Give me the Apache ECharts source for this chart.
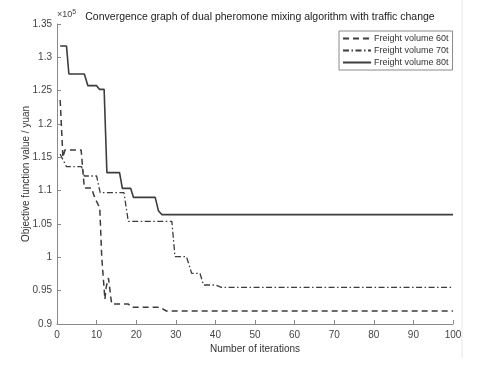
<!DOCTYPE html>
<html>
<head>
<meta charset="utf-8">
<script src="https://cdn.jsdelivr.net/npm/echarts@6/dist/echarts.min.js"></script>
<style>
html, body { margin: 0; padding: 0; background: #fff; }
#main { width: 480px; height: 367px; }
</style>
</head>
<body>
<div id="main"></div>
<script>
// breakpoints (iteration, objective value)
var iter60 = [0.8, 1.5, 2.0, 6.1, 6.9, 8.7, 9.5, 10.8, 11.3, 12.1, 12.4, 13.0, 13.8, 18.0, 18.8, 26.0, 27.6, 100];
var val60  = [1.236, 1.15, 1.161, 1.161, 1.104, 1.104, 1.09, 1.074, 1.0, 0.937, 0.955, 0.969, 0.93, 0.93, 0.925, 0.925, 0.9195, 0.9195];

var iter70 = [0.8, 1.2, 2.4, 6.2, 6.9, 10.0, 10.9, 16.9, 18.0, 29.0, 29.8, 32.7, 34.0, 36.1, 37.0, 40.0, 41.5, 100];
var val70  = [1.155, 1.15, 1.136, 1.136, 1.122, 1.122, 1.097, 1.097, 1.054, 1.054, 1.001, 1.001, 0.976, 0.976, 0.9585, 0.9585, 0.955, 0.955];

var iter80 = [0.8, 2.4, 3.0, 6.9, 7.8, 10.0, 10.7, 11.9, 12.6, 15.8, 16.5, 18.6, 19.3, 24.8, 25.6, 26.5, 100];
var val80  = [1.317, 1.317, 1.275, 1.275, 1.2575, 1.2575, 1.252, 1.252, 1.127, 1.127, 1.1035, 1.1035, 1.09, 1.09, 1.07, 1.064, 1.064];

var seriesNames = ['Freight volume 60t', 'Freight volume 70t', 'Freight volume 80t'];
var titleText = 'Convergence graph of dual pheromone mixing algorithm with traffic change';

function pairs(xs, ys) {
	var res = [];
	for (var i = 0; i < xs.length; i++) res.push([xs[i], ys[i]]);
	return res;
}

var font = '"Liberation Sans", Arial, sans-serif';
var lineColor = '#3c3c3c';

var chart = echarts.init(document.getElementById('main'));
chart.setOption({
	animation: false,
	backgroundColor: '#fff',
	title: {
		text: titleText,
		left: 255,
		textAlign: 'center',
		top: 7,
		textStyle: { fontFamily: font, fontSize: 10.5, fontWeight: 'normal', color: '#1a1a1a' }
	},
	legend: {
		orient: 'vertical',
		left: 339,
		top: 31,
		padding: [3, 4, 3, 3],
		itemGap: 3,
		itemWidth: 28,
		itemHeight: 8,
		borderColor: '#8a8a8a',
		borderWidth: 1,
		data: seriesNames,
		itemStyle: { opacity: 0 },
		textStyle: { fontFamily: font, fontSize: 9, color: '#333', padding: [0, 0, 0, -2] }
	},
	grid: { left: 57, right: 27, top: 24, bottom: 43 },
	xAxis: {
		type: 'value',
		min: 0,
		max: 100,
		interval: 10,
		name: 'Number of iterations',
		nameLocation: 'middle',
		nameGap: 20,
		nameMoveOverlap: false,
		nameTextStyle: { fontFamily: font, fontSize: 10, color: '#333' },
		axisLine: { lineStyle: { color: '#8a8a8a' } },
		axisTick: { inside: true, length: 4, lineStyle: { color: '#8a8a8a' } },
		axisLabel: { fontFamily: font, fontSize: 10, color: '#444', margin: 6 },
		splitLine: { show: false }
	},
	yAxis: {
		type: 'value',
		min: 0.9,
		max: 1.35,
		interval: 0.05,
		name: 'Objective function value / yuan',
		nameLocation: 'middle',
		nameGap: 26,
		nameMoveOverlap: false,
		nameTextStyle: { fontFamily: font, fontSize: 10, color: '#333' },
		axisLine: { show: true, lineStyle: { color: '#8a8a8a' } },
		axisTick: { show: true, inside: true, length: 4, lineStyle: { color: '#8a8a8a' } },
		axisLabel: { fontFamily: font, fontSize: 10, color: '#444', margin: 5 },
		splitLine: { show: false }
	},
	graphic: [{
		type: 'text',
		left: 57,
		top: 9,
		style: {
			text: '{a|×10}{b|5}',
			rich: {
				a: { fontFamily: font, fontSize: 9, fill: '#444' },
				b: { fontFamily: font, fontSize: 7, fill: '#444', verticalAlign: 'top', padding: [0, 0, 5, 0] }
			}
		}
	}, {
		type: 'line',
		shape: { x1: 462, y1: 0, x2: 462, y2: 358 },
		style: { stroke: '#e6e6e6', lineWidth: 1 }
	}],
	series: [{
		name: seriesNames[0],
		type: 'line',
		symbol: 'none',
		data: pairs(iter60, val60),
		lineStyle: { color: lineColor, width: 1.5, type: [6, 4] },
		itemStyle: { color: lineColor }
	}, {
		name: seriesNames[1],
		type: 'line',
		symbol: 'none',
		data: pairs(iter70, val70),
		lineStyle: { color: lineColor, width: 1.3, type: [6, 2.5, 1.5, 2.5] },
		itemStyle: { color: lineColor }
	}, {
		name: seriesNames[2],
		type: 'line',
		symbol: 'none',
		data: pairs(iter80, val80),
		lineStyle: { color: lineColor, width: 1.6 },
		itemStyle: { color: lineColor }
	}]
});
</script>
</body>
</html>
